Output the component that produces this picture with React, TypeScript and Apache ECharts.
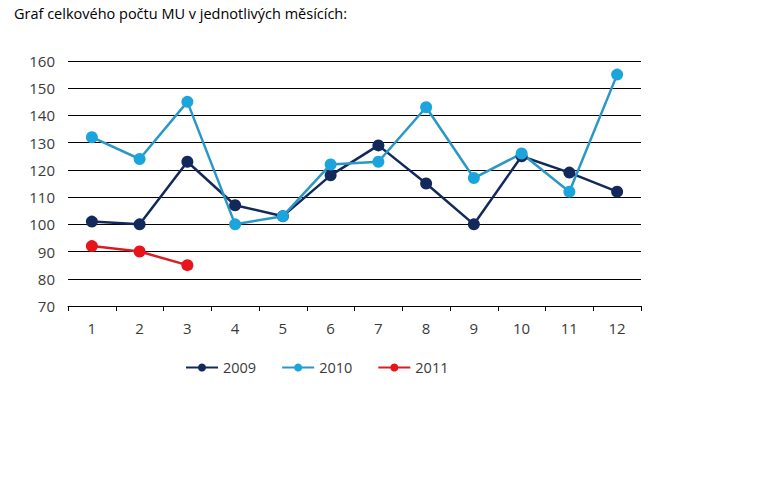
import React, { useEffect, useRef } from "react";
import * as echarts from "echarts";

const title = "Graf celkového počtu MU v jednotlivých měsících:";
const months = ["1", "2", "3", "4", "5", "6", "7", "8", "9", "10", "11", "12"];
const s2009 = [101, 100, 123, 107, 103, 118, 129, 115, 100, 125, 119, 112];
const s2010 = [132, 124, 145, 100, 103, 122, 123, 143, 117, 126, 112, 155];
const s2011 = [92, 90, 85];

export default function App() {
  const ref = useRef<HTMLDivElement>(null);
  useEffect(() => {
    if (!ref.current) return;
    const chart = echarts.init(ref.current, null, { renderer: "svg" });
    const mk = (name: string, data: number[], line: string, marker: string) => ({
      name,
      type: "line",
      data,
      symbol: "circle",
      symbolSize: 12,
      showSymbol: true,
      lineStyle: { color: line, width: 2.5 },
      itemStyle: { color: marker },
      z: 3,
    });
    chart.setOption({
      animation: false,
      backgroundColor: "#ffffff",
      title: {
        text: title,
        left: 9,
        top: 1,
        textStyle: { fontFamily: "Open Sans", fontSize: 14.5, fontWeight: "normal", color: "#000" },
      },
      legend: {
        top: 355,
        left: 180,
        itemWidth: 32,
        itemHeight: 10,
        itemGap: 25,
        textStyle: { fontFamily: "Open Sans", fontSize: 14.5, color: "#3a3a3a" },
        data: ["2009", "2010", "2011"],
      },
      grid: { left: 68, right: 127, top: 61, bottom: 174 },
      xAxis: {
        type: "category",
        data: months,
        boundaryGap: true,
        axisLine: { lineStyle: { color: "#000", width: 1 } },
        axisTick: { show: true, length: 5, lineStyle: { color: "#000" } },
        axisLabel: { fontFamily: "Open Sans", fontSize: 15, color: "#3a3a3a", margin: 14 },
      },
      yAxis: {
        type: "value",
        min: 70,
        max: 160,
        interval: 10,
        axisLine: { show: false },
        axisTick: { show: false },
        splitLine: { lineStyle: { color: "#000", width: 1 } },
        axisLabel: { fontFamily: "Open Sans", fontSize: 15, color: "#3a3a3a", margin: 13 },
      },
      series: [
        mk("2009", s2009, "#13295b", "#13295b"),
        mk("2010", s2010, "#2a98c6", "#1ca5dc"),
        mk("2011", s2011, "#d81e24", "#e8141c"),
      ],
    });
    return () => chart.dispose();
  }, []);
  return (
    <div
      ref={ref}
      style={{ position: "fixed", left: 0, top: 0, width: 768, height: 480 }}
    />
  );
}
